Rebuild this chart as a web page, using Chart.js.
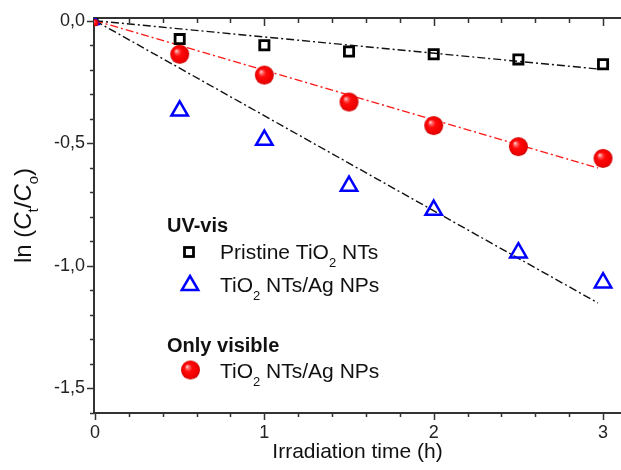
<!DOCTYPE html>
<html>
<head>
    <title>ln(Ct/Co) vs irradiation time</title>
    <script src="https://cdn.jsdelivr.net/npm/chart.js"></script>
    <style>
        body { margin: 0; background: #fff; }
        #wrap { width: 621px; height: 470px; }
    </style>
</head>
<body>
<div id="wrap"><canvas id="kinetics" width="621" height="470"></canvas></div>
<script>
    // irradiation time (h)
    const times = [0, 0.5, 1, 1.5, 2, 2.5, 3];
    // ln(Ct/Co) for each sample
    const pristineUv = [-0.005, -0.075, -0.100, -0.126, -0.137, -0.158, -0.178];
    const agUv = [-0.005, -0.368, -0.487, -0.675, -0.773, -0.947, -1.069];
    const agVisible = [-0.008, -0.137, -0.222, -0.332, -0.428, -0.514, -0.562];

    // linear fits through the origin (start / end)
    const fitTimes = [0, 2.97];
    const pristineUvFit = [0, -0.197];
    const agUvFit = [0, -1.152];
    const agVisibleFit = [0, -0.601];

    const xTicks = [0, 1, 2, 3];
    const yTicks = [0, -0.5, -1.0, -1.5];

    const FONT = "'Liberation Sans', Arial, sans-serif";
    const AXIS = '#333';

    // minor ticks: 0.2 h on x, 0.1 on y
    const xMinor = [];
    for (let i = 0; i <= 15; i++) xMinor.push(Math.round(i * 2) / 10);
    const yMinor = [];
    for (let i = 0; i <= 16; i++) yMinor.push(-i / 10);

    const pts = (xs, ys) => xs.map((x, i) => ({ x: x, y: ys[i] }));
    const isMajor = v => Math.abs(v - Math.round(v)) < 1e-9;

    // shaded red ball used as the marker for the visible-light series
    function makeSphere(r) {
        const c = document.createElement('canvas');
        c.width = c.height = Math.ceil(2 * r + 2);
        const g = c.getContext('2d');
        const cx = c.width / 2, cy = c.height / 2;
        const grad = g.createRadialGradient(cx - r * 0.38, cy - r * 0.38, 0, cx, cy, r);
        grad.addColorStop(0, '#fff0f0');
        grad.addColorStop(0.18, '#ff6a6a');
        grad.addColorStop(0.42, '#ff0a0a');
        grad.addColorStop(0.85, '#f00000');
        grad.addColorStop(1, '#c40000');
        g.fillStyle = grad;
        g.beginPath();
        g.arc(cx, cy, r, 0, Math.PI * 2);
        g.fill();
        return c;
    }
    const sphere = makeSphere(9.5);
    const smallSphere = makeSphere(3.5);

    // text made of runs with different fonts / baseline shifts
    function runsWidth(ctx, runs) {
        let w = 0;
        runs.forEach(r => { ctx.font = r.f; w += ctx.measureText(r.t).width; });
        return w;
    }
    function drawRuns(ctx, runs, x, y) {
        runs.forEach(r => {
            ctx.font = r.f;
            ctx.fillText(r.t, x, y + (r.dy || 0));
            x += ctx.measureText(r.t).width;
        });
    }

    const txt = () => '21px ' + FONT;
    const sub = '13px ' + FONT;
    const tio2 = rest => [{ t: 'TiO', f: txt() }, { t: '2', f: sub, dy: 8 }, { t: rest, f: txt() }];

    const axesFrame = {
        id: 'axesFrame',
        beforeDatasetsDraw(chart) {
            const { ctx, chartArea: a, scales: { x, y } } = chart;
            ctx.save();
            ctx.strokeStyle = AXIS;
            ctx.lineWidth = 2;
            ctx.beginPath();
            ctx.moveTo(a.left, a.top);
            ctx.lineTo(a.right, a.top);
            ctx.moveTo(a.left, a.top - 1);
            ctx.lineTo(a.left, a.bottom);
            ctx.lineTo(a.right, a.bottom);
            ctx.stroke();

            ctx.lineWidth = 1.5;
            ctx.beginPath();
            xMinor.forEach(v => {
                const px = Math.round(x.getPixelForValue(v)) + 0.5;
                const major = isMajor(v);
                ctx.moveTo(px, a.bottom);
                ctx.lineTo(px, a.bottom + (major ? 7 : 4));
                ctx.moveTo(px, a.top);
                ctx.lineTo(px, a.top + (major ? 8 : 5));
            });
            yMinor.forEach(v => {
                const py = Math.round(y.getPixelForValue(v)) + 0.5;
                const major = Math.abs(v * 2 - Math.round(v * 2)) < 1e-9;
                ctx.moveTo(a.left, py);
                ctx.lineTo(a.left - (major ? 7 : 4), py);
            });
            ctx.stroke();
            ctx.restore();
        },
        afterDraw(chart) {
            const { ctx, chartArea: a } = chart;
            ctx.save();
            ctx.fillStyle = '#111';
            ctx.textBaseline = 'alphabetic';

            // y axis title, rotated
            const big = '24px ' + FONT, it = 'italic 24px ' + FONT, sm = '15px ' + FONT;
            const title = [
                { t: 'ln (', f: big }, { t: 'C', f: it }, { t: 't', f: sm, dy: 7 },
                { t: '/', f: big }, { t: 'C', f: it }, { t: 'o', f: sm, dy: 7 }, { t: ')', f: big }
            ];
            ctx.translate(31, (a.top + a.bottom) / 2);
            ctx.rotate(-Math.PI / 2);
            drawRuns(ctx, title, -runsWidth(ctx, title) / 2, 0);
            ctx.setTransform(1, 0, 0, 1, 0, 0);

            // legend
            ctx.font = 'bold 20px ' + FONT;
            ctx.fillText('UV-vis', 167, 232);
            ctx.fillText('Only visible', 167, 352);
            drawRuns(ctx, [{ t: 'Pristine ', f: txt() }].concat(tio2(' NTs')), 220, 259);
            drawRuns(ctx, tio2(' NTs/Ag NPs'), 220, 292);
            drawRuns(ctx, tio2(' NTs/Ag NPs'), 220, 378);

            ctx.strokeStyle = '#000';
            ctx.lineWidth = 2.8;
            ctx.strokeRect(184.5, 247.5, 9, 9);

            ctx.strokeStyle = '#0000ff';
            ctx.lineWidth = 2.5;
            ctx.beginPath();
            ctx.moveTo(190, 276);
            ctx.lineTo(198.2, 290);
            ctx.lineTo(181.8, 290);
            ctx.closePath();
            ctx.stroke();

            ctx.drawImage(sphere, 190.5 - sphere.width / 2, 370 - sphere.height / 2);
            ctx.restore();
        }
    };

    const fitLine = (xs, ys, color) => ({
        data: pts(xs, ys),
        showLine: true,
        borderColor: color,
        borderWidth: 1.4,
        borderDash: [8, 3, 2, 3],
        pointRadius: 0,
        fill: false
    });

    new Chart(document.getElementById('kinetics'), {
        type: 'scatter',
        data: {
            datasets: [
                {
                    label: 'Only visible, TiO2 NTs/Ag NPs',
                    data: pts(times, agVisible),
                    pointStyle: times.map((t, i) => i === 0 ? smallSphere : sphere),
                    pointRadius: 9.5
                },
                {
                    label: 'UV-vis, TiO2 NTs/Ag NPs',
                    data: pts(times, agUv),
                    pointStyle: 'triangle',
                    pointRadius: times.map((t, i) => i === 0 ? 4 : 9.5),
                    borderColor: '#0000ff',
                    backgroundColor: 'rgba(0,0,0,0)',
                    borderWidth: 2.5
                },
                {
                    label: 'UV-vis, Pristine TiO2 NTs',
                    data: pts(times, pristineUv),
                    pointStyle: 'rect',
                    pointRadius: times.map((t, i) => i === 0 ? 3 : 6.5),
                    borderColor: '#000',
                    backgroundColor: 'rgba(0,0,0,0)',
                    borderWidth: 2.8
                },
                fitLine(fitTimes, pristineUvFit, '#111'),
                fitLine(fitTimes, agVisibleFit, '#ff1a1a'),
                fitLine(fitTimes, agUvFit, '#111')
            ]
        },
        options: {
            responsive: false,
            animation: false,
            layout: { autoPadding: false, padding: { left: 0, right: 0, top: 18, bottom: 0 } },
            plugins: { legend: { display: false }, tooltip: { enabled: false } },
            scales: {
                x: {
                    type: 'linear',
                    min: -0.006,
                    max: 3.106,
                    grid: { display: false, drawTicks: false },
                    border: { display: false },
                    afterBuildTicks: s => { s.ticks = xTicks.map(v => ({ value: v })); },
                    afterFit: s => { s.height = 57; s.paddingLeft = 0; s.paddingRight = 0; },
                    ticks: {
                        padding: 9,
                        color: '#222',
                        font: { family: FONT, size: 18 },
                        callback: v => String(v)
                    },
                    title: {
                        display: true,
                        text: 'Irradiation time (h)',
                        color: '#111',
                        font: { family: FONT, size: 21 },
                        padding: { top: 0, bottom: 5 }
                    }
                },
                y: {
                    type: 'linear',
                    min: -1.601,
                    max: 0.011,
                    grid: { display: false, drawTicks: false },
                    border: { display: false },
                    afterBuildTicks: s => { s.ticks = yTicks.map(v => ({ value: v })); },
                    afterFit: s => { s.width = 94; s.paddingTop = 0; s.paddingBottom = 0; },
                    ticks: {
                        padding: 9,
                        color: '#222',
                        font: { family: FONT, size: 18 },
                        callback: v => v.toFixed(1).replace('.', ',')
                    }
                }
            }
        },
        plugins: [axesFrame]
    });
</script>
</body>
</html>
